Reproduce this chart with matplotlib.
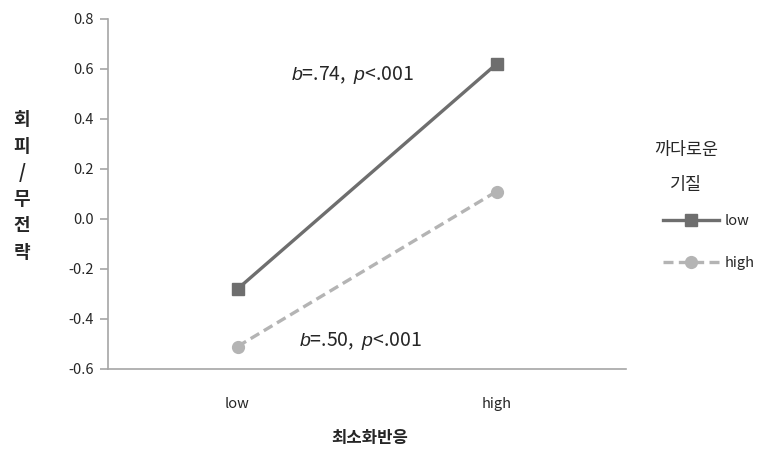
import matplotlib.pyplot as plt

plt.rcParams['font.family'] = ['Noto Sans CJK KR', 'DejaVu Sans']
plt.rcParams['mathtext.fontset'] = 'custom'
plt.rcParams['mathtext.it'] = 'Liberation Sans:italic'
plt.rcParams['mathtext.rm'] = 'Liberation Sans'

# simple slopes: 까다로운 기질 low / high
x_labels = ['low', 'high']
low_vals = [-0.28, 0.62]
high_vals = [-0.51, 0.11]
series_names = ['low', 'high']
slope_low = '$b$=.74,  $p$<.001'
slope_high = '$b$=.50,  $p$<.001'

axis_grey = '#a6a6a6'
text_col = '#262626'

fig = plt.figure(figsize=(7.66, 4.55), dpi=100)
ax = fig.add_axes([108 / 766, 1 - 369 / 455, (626 - 108) / 766, (369 - 19) / 455])

xs = [0, 1]
ax.plot(xs, low_vals, color='#6e6e6e', lw=2.4, marker='s', ms=8.5, label=series_names[0])
ax.plot(xs, high_vals, color='#b4b4b4', lw=2.4, ls=(0, (3, 1.6)), marker='o', ms=8.5,
        label=series_names[1])

ax.set_xlim(-0.5, 1.5)
ax.set_ylim(-0.6, 0.8)
ax.set_yticks([-0.6, -0.4, -0.2, 0.0, 0.2, 0.4, 0.6, 0.8])
ax.set_yticklabels([f'{v:.1f}' for v in ax.get_yticks()])
ax.set_xticks(xs)
ax.set_xticklabels(x_labels)

for side in ['top', 'right']:
    ax.spines[side].set_visible(False)
for side in ['left', 'bottom']:
    ax.spines[side].set_color(axis_grey)
    ax.spines[side].set_linewidth(1.2)
ax.tick_params(axis='y', color=axis_grey, length=6, width=1.2, labelsize=10.5,
               labelcolor=text_col, pad=4)
ax.tick_params(axis='x', length=0, labelsize=10.5, labelcolor=text_col, pad=20)

# slope annotations
ax.text(0.445, 0.576, slope_low, fontsize=14, color=text_col, ha='center', va='center')
ax.text(0.475, -0.49, slope_high, fontsize=14, color=text_col, ha='center', va='center')

# axis titles
fig.text(370 / 766, 1 - 438 / 455, '최소화반응', fontsize=12, fontweight='bold',
         color=text_col, ha='center', va='center')
fig.text(22 / 766, 1 - 186 / 455, '\n'.join('회피/무전략'), fontsize=13, fontweight='bold',
         color=text_col, ha='center', va='center', linespacing=1.5)

# legend
fig.text(686 / 766, 1 - 150 / 455, '까다로운', fontsize=12.5, color=text_col,
         ha='center', va='center')
fig.text(686 / 766, 1 - 185 / 455, '기질', fontsize=12.5, color=text_col,
         ha='center', va='center')
fig.legend(loc='upper left', bbox_to_anchor=(650 / 766, 1 - 201 / 455), frameon=False,
           fontsize=10.5, handlelength=3.8, handletextpad=0.4, labelspacing=1.9,
           labelcolor=text_col)

fig.savefig('out.png', dpi=100)
